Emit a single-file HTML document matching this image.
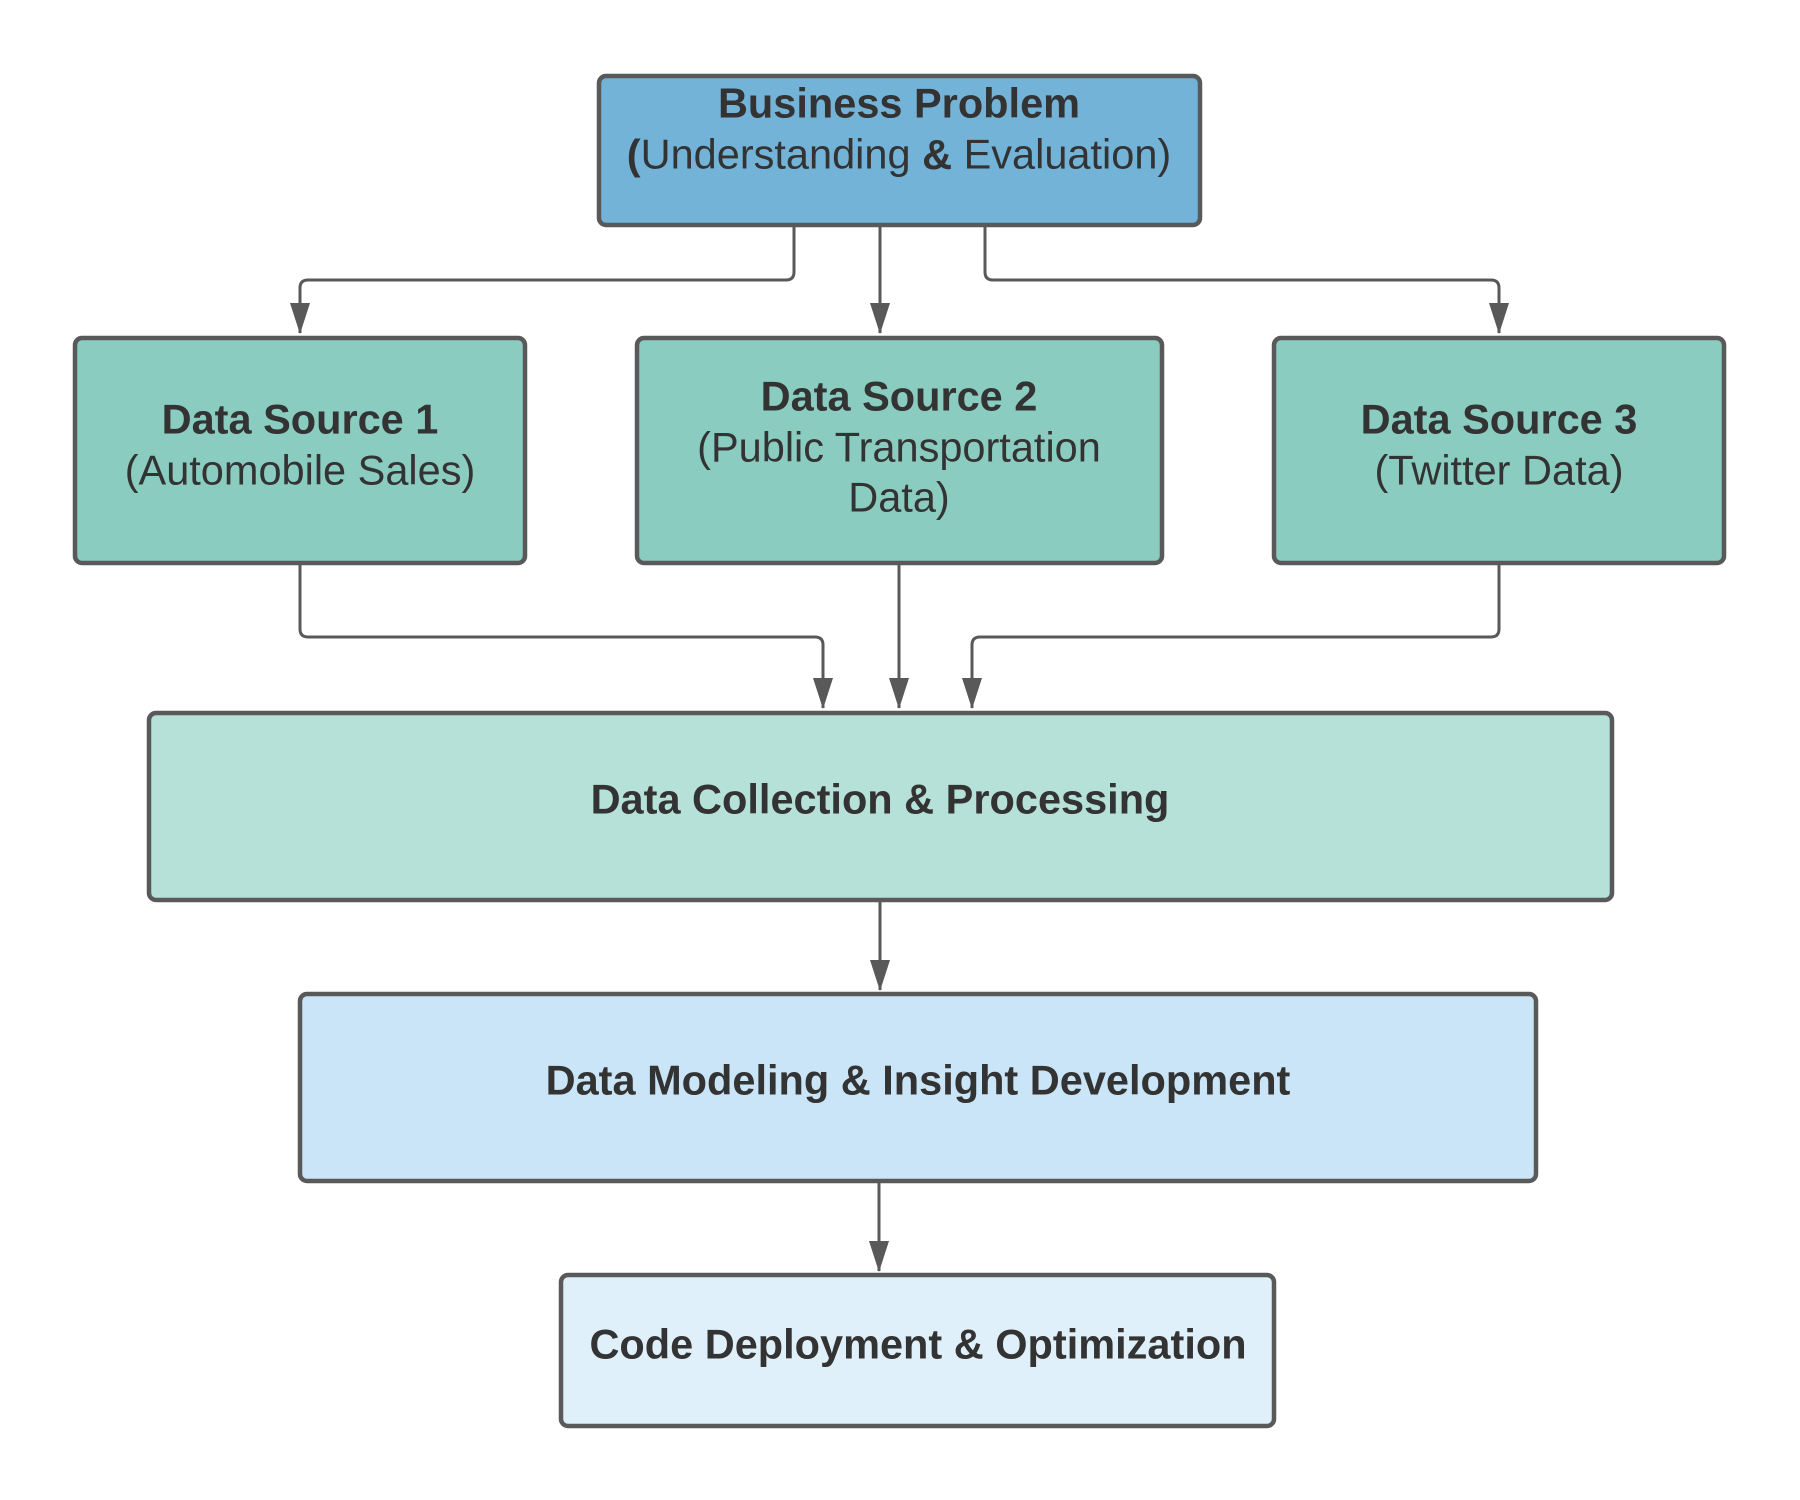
<!DOCTYPE html>
<html><head><style>body{margin:0;background:#fff}svg{display:block}text{font-family:"Liberation Sans",sans-serif;fill:#333;font-size:41.5px;text-anchor:middle;dominant-baseline:central}.b{font-weight:bold}</style></head>
<body>
<svg width="1800" height="1500" viewBox="0 0 1800 1500">
<g fill="none" stroke="#595959" stroke-width="3">
<path d="M794,227 V272 Q794,280 786,280 H308 Q300,280 300,288 V333"/>
<path d="M880,227 V333"/>
<path d="M985,227 V272 Q985,280 993,280 H1491 Q1499,280 1499,288 V333"/>
<path d="M300,565 V629 Q300,637 308,637 H815 Q823,637 823,645 V708"/>
<path d="M899,565 V708"/>
<path d="M1499,565 V629 Q1499,637 1491,637 H980 Q972,637 972,645 V708"/>
<path d="M880,902 V990"/>
<path d="M879,1183 V1271"/>
</g>
<g fill="#595959">
<path d="M290,303 L310,303 L300,334z"/><path d="M870,303 L890,303 L880,334z"/><path d="M1489,303 L1509,303 L1499,334z"/>
<path d="M813,678 L833,678 L823,709z"/><path d="M889,678 L909,678 L899,709z"/><path d="M962,678 L982,678 L972,709z"/>
<path d="M870,960 L890,960 L880,991z"/><path d="M869,1241 L889,1241 L879,1272z"/>
</g>
<g stroke="#595959" stroke-width="4.5">
<rect x="599" y="76" width="601" height="149" rx="7" fill="#74b3d8"/>
<rect x="75" y="338" width="450" height="225" rx="7" fill="#8accc0"/>
<rect x="637" y="338" width="525" height="225" rx="7" fill="#8accc0"/>
<rect x="1274" y="338" width="450" height="225" rx="7" fill="#8accc0"/>
<rect x="149" y="713" width="1463" height="187" rx="7" fill="#b5e1d8"/>
<rect x="300" y="994" width="1236" height="187" rx="7" fill="#c9e5f7"/>
<rect x="561" y="1275" width="713" height="151" rx="7" fill="#e0f0fb"/>
</g>
<text class="b" x="899" y="103">Business Problem</text>
<text x="899" y="154"><tspan class="b">(</tspan>Understanding <tspan class="b">&amp;</tspan> Evaluation)</text>
<text class="b" x="300" y="419">Data Source 1</text>
<text x="300" y="470">(Automobile Sales)</text>
<text class="b" x="899" y="396">Data Source 2</text>
<text x="899" y="447">(Public Transportation</text>
<text x="899" y="497">Data)</text>
<text class="b" x="1499" y="419">Data Source 3</text>
<text x="1499" y="470">(Twitter Data)</text>
<text class="b" x="880" y="799">Data Collection &amp; Processing</text>
<text class="b" x="918" y="1080">Data Modeling &amp; Insight Development</text>
<text class="b" x="918" y="1344">Code Deployment &amp; Optimization</text>
</svg>
</body></html>
